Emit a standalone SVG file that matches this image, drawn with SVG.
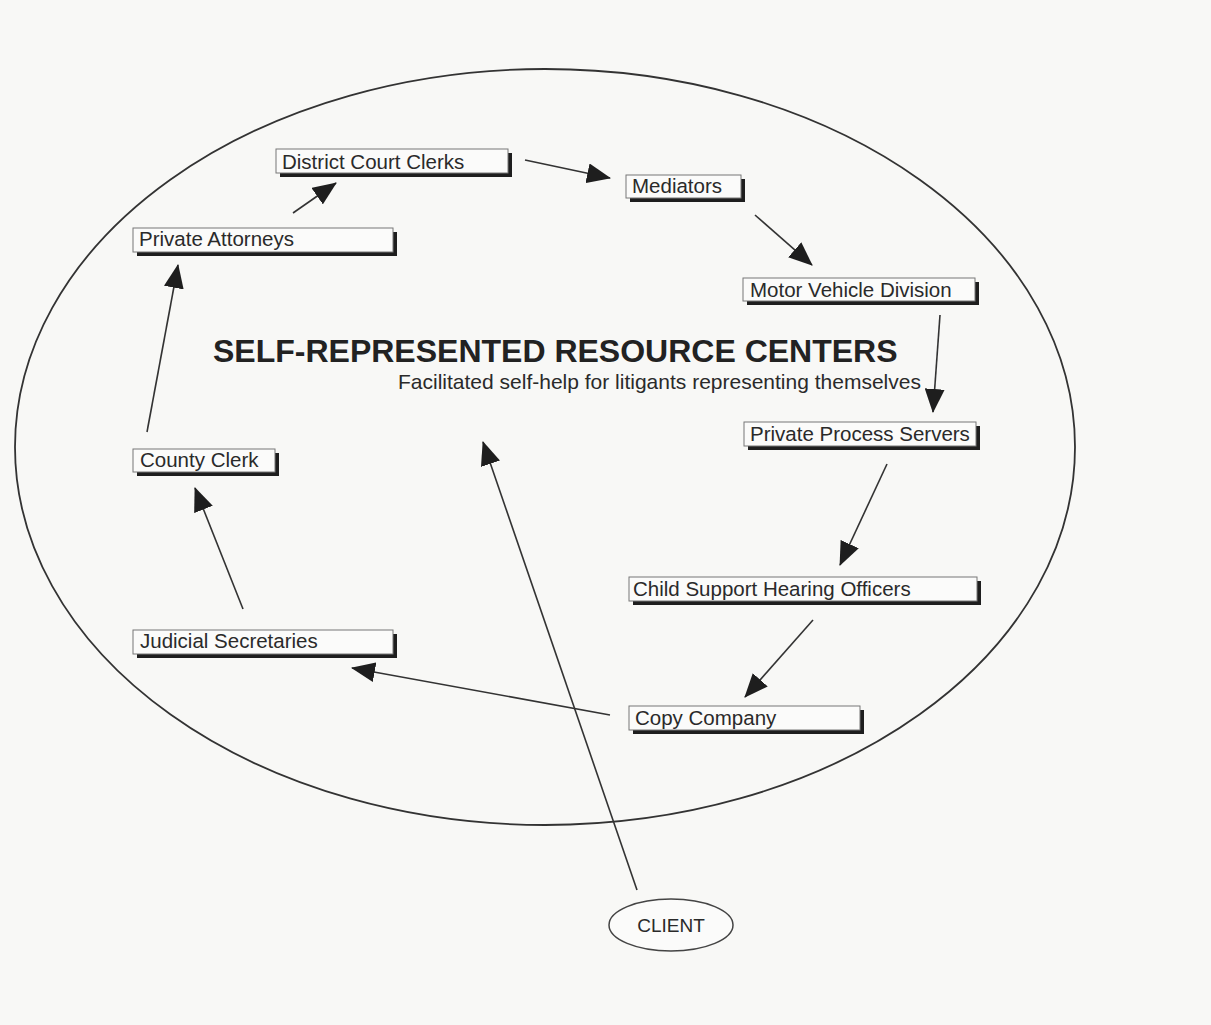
<svg xmlns="http://www.w3.org/2000/svg" width="1211" height="1025" viewBox="0 0 1211 1025">
<style>
.bg{fill:#f8f8f6}
.shadow{fill:#1e1e1e}
.box{fill:#fbfbfa;stroke:#777;stroke-width:1}
.lbl{font-family:"Liberation Sans",Arial,sans-serif;font-size:20.5px;fill:#2a2a2a}
.title{font-family:"Liberation Sans",Arial,sans-serif;font-size:32px;font-weight:bold;fill:#222}
.sub{font-family:"Liberation Sans",Arial,sans-serif;font-size:21px;fill:#2a2a2a}
.conn line{stroke:#333;stroke-width:1.6;marker-end:url(#ah)}
</style>
<defs>
<marker id="ah" viewBox="0 0 24 20" refX="23" refY="10" markerWidth="24" markerHeight="20" orient="auto" markerUnits="userSpaceOnUse">
<path d="M0,0 L24,10 L0,20 Z" fill="#1e1e1e"/>
</marker>
</defs>
<rect class="bg" x="0" y="0" width="1211" height="1025"/>
<g id="outer">
<ellipse cx="545" cy="447" rx="530" ry="378" fill="none" stroke="#333" stroke-width="1.8"/>
</g>
<g id="title">
<text class="title" x="213" y="362">SELF-REPRESENTED RESOURCE CENTERS</text>
<text class="sub" x="398" y="389">Facilitated self-help for litigants representing themselves</text>
</g>
<g id="n-district">
<rect class="shadow" x="280" y="153" width="232" height="24"/>
<rect class="box" x="276" y="149" width="232" height="24"/>
<text class="lbl" x="282" y="169">District Court Clerks</text>
</g>
<g id="n-attorneys">
<rect class="shadow" x="137" y="232" width="260" height="24"/>
<rect class="box" x="133" y="228" width="260" height="24"/>
<text class="lbl" x="139" y="246">Private Attorneys</text>
</g>
<g id="n-mediators">
<rect class="shadow" x="630" y="179" width="115" height="23"/>
<rect class="box" x="626" y="175" width="115" height="23"/>
<text class="lbl" x="632" y="193">Mediators</text>
</g>
<g id="n-mvd">
<rect class="shadow" x="747" y="282" width="232" height="23"/>
<rect class="box" x="743" y="278" width="232" height="23"/>
<text class="lbl" x="750" y="297">Motor Vehicle Division</text>
</g>
<g id="n-pps">
<rect class="shadow" x="748" y="426" width="232" height="24"/>
<rect class="box" x="744" y="422" width="232" height="24"/>
<text class="lbl" x="750" y="441">Private Process Servers</text>
</g>
<g id="n-child">
<rect class="shadow" x="633" y="581" width="348" height="24"/>
<rect class="box" x="629" y="577" width="348" height="24"/>
<text class="lbl" x="633" y="596">Child Support Hearing Officers</text>
</g>
<g id="n-copy">
<rect class="shadow" x="633" y="710" width="231" height="24"/>
<rect class="box" x="629" y="706" width="231" height="24"/>
<text class="lbl" x="635" y="725">Copy Company</text>
</g>
<g id="n-judicial">
<rect class="shadow" x="137" y="634" width="260" height="24"/>
<rect class="box" x="133" y="630" width="260" height="24"/>
<text class="lbl" x="140" y="648">Judicial Secretaries</text>
</g>
<g id="n-county">
<rect class="shadow" x="137" y="453" width="142" height="23"/>
<rect class="box" x="133" y="449" width="142" height="23"/>
<text class="lbl" x="140" y="467">County Clerk</text>
</g>
<g id="n-client">
<ellipse cx="671" cy="925" rx="62" ry="26" fill="#fbfbfa" stroke="#444" stroke-width="1.5"/>
<text class="lbl" x="671" y="932" text-anchor="middle" style="font-size:19px">CLIENT</text>
</g>
<g id="connectors" class="conn">
<line x1="293" y1="213" x2="336" y2="183"/>
<line x1="525" y1="160" x2="610" y2="178"/>
<line x1="755" y1="215" x2="812" y2="265"/>
<line x1="940" y1="315" x2="933" y2="412"/>
<line x1="887" y1="464" x2="840" y2="565"/>
<line x1="813" y1="620" x2="745" y2="697"/>
<line x1="610" y1="715" x2="352" y2="668"/>
<line x1="243" y1="609" x2="195" y2="488"/>
<line x1="147" y1="432" x2="178" y2="265"/>
<line x1="637" y1="890" x2="483" y2="442"/>
</g>
</svg>
